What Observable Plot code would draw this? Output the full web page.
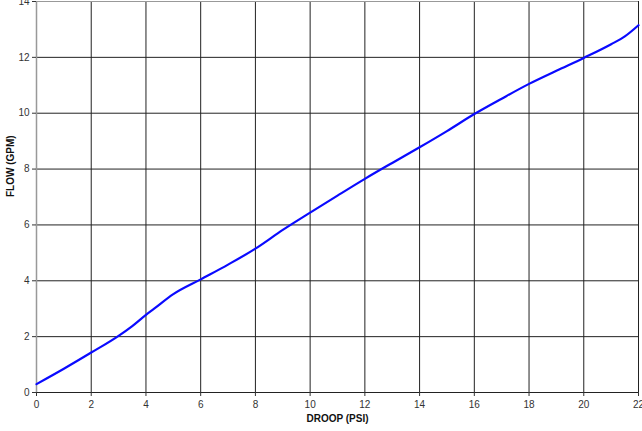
<!DOCTYPE html>
<html>
<head>
<meta charset="utf-8">
<script src="https://cdn.jsdelivr.net/npm/d3@7"></script>
<script src="https://cdn.jsdelivr.net/npm/@observablehq/plot@0.6"></script>
<style>
  html, body { margin: 0; padding: 0; background: #fff; }
  svg { display: block; }
</style>
</head>
<body>
<div id="chart"></div>
<script>
const droop = [0, 1, 2, 3, 3.5, 4, 4.3, 5, 6, 7, 8, 9, 10, 11, 12, 13, 14, 15, 16, 17, 18, 19, 20, 21, 21.5, 22];
const flow  = [0.30, 0.85, 1.43, 2.03, 2.38, 2.78, 3.0, 3.52, 4.05, 4.58, 5.15, 5.82, 6.44, 7.05, 7.65, 8.22, 8.78, 9.36, 9.97, 10.52, 11.05, 11.52, 11.98, 12.47, 12.75, 13.15];
const xTicks = [0, 2, 4, 6, 8, 10, 12, 14, 16, 18, 20, 22];
const yTicks = [0, 2, 4, 6, 8, 10, 12, 14];
const xLabel = "DROOP (PSI)";
const yLabel = "FLOW (GPM)";

const data = droop.map((d, i) => ({droop: d, flow: flow[i]}));

const chart = Plot.plot({
  width: 642,
  height: 431,
  marginLeft: 36,
  marginRight: 4,
  marginTop: 1,
  marginBottom: 39,
  style: {fontFamily: "'Liberation Sans', Arial, sans-serif", fontSize: "10px", color: "#333", background: "#fff"},
  x: {domain: [0, 22]},
  y: {domain: [0, 14]},
  marks: [
    Plot.gridX(xTicks, {stroke: "#222", strokeOpacity: 1, strokeWidth: 1}),
    Plot.gridY(yTicks, {stroke: "#222", strokeOpacity: 1, strokeWidth: 1}),
    Plot.ruleX([0], {stroke: "#999", strokeWidth: 1.5}),
    Plot.ruleY([14], {stroke: "#999", strokeWidth: 1}),
    Plot.axisX(xTicks, {tickSize: 4, tickPadding: 4, label: null, stroke: "#333", fill: "#333", tickFormat: d => d}),
    Plot.axisY(yTicks, {tickSize: 4, tickPadding: 3, label: null, stroke: "#333", fill: "#333", tickFormat: d => d}),
    Plot.line(data, {x: "droop", y: "flow", stroke: "#0a0aff", strokeWidth: 2.2, curve: "monotone-x"}),
    Plot.text([xLabel], {frameAnchor: "bottom", dy: 29, text: d => d, fontWeight: "bold", fontSize: 10, fill: "#111"}),
    Plot.text([yLabel], {frameAnchor: "left", dx: -26, rotate: -90, text: d => d, fontWeight: "bold", fontSize: 10, fill: "#111"})
  ]
});
document.getElementById("chart").append(chart);
</script>
</body>
</html>
